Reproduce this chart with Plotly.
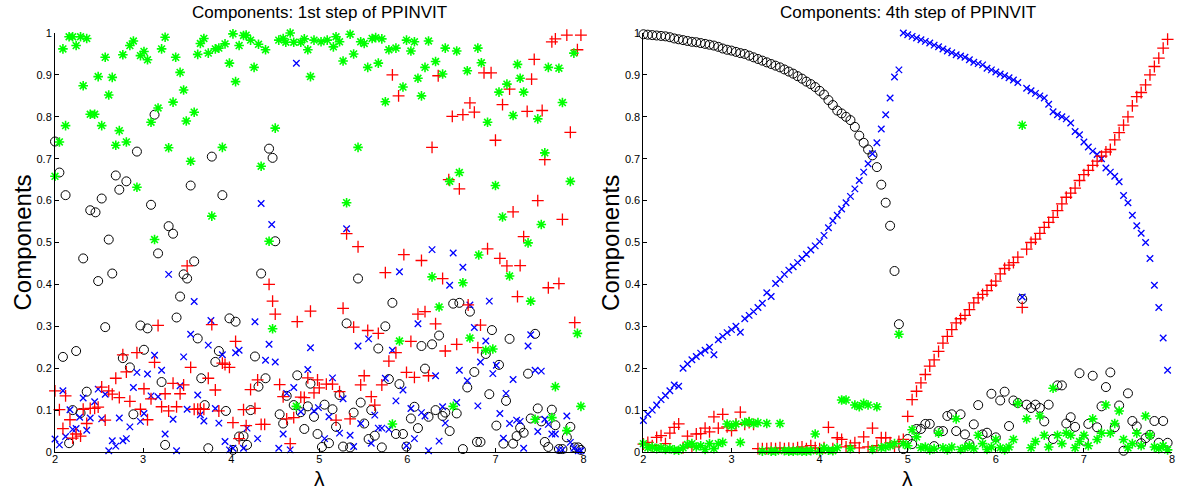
import plotly.graph_objects as go
from plotly.subplots import make_subplots

# ---------------- Left panel: 1st step (lambda, component) pairs ----------------
L_BLACK = [(2.00,.741),(2.05,.667),(2.09,.227),(2.12,.613),(2.16,.021),(2.20,.100),(2.24,.241),(2.29,.093),(2.32,.462),(2.36,.144),
 (2.40,.577),(2.46,.572),(2.49,.408),(2.53,.605),(2.57,.298),(2.61,.507),(2.65,.426),(2.69,.660),(2.73,.626),(2.77,.224),
 (2.81,.646),(2.85,.202),(2.89,.090),(2.93,.717),(2.97,.302),(3.01,.244),(3.05,.295),(3.09,.590),(3.13,.805),(3.17,.474),
 (3.21,.167),(3.25,.017),(3.29,.539),(3.34,.521),(3.38,.321),(3.42,.371),(3.46,.424),(3.50,.414),(3.54,.636),(3.58,.455),
 (3.62,.271),(3.66,.176),(3.70,.112),(3.74,.009),(3.78,.705),(3.82,.215),(3.86,.241),(3.90,.613),(3.94,.098),(3.98,.319),
 (4.02,.005),(4.05,.311),(4.09,.037),(4.14,.038),(4.18,.017),(4.22,.100),(4.27,.228),(4.31,.156),(4.34,.426),(4.39,.176),
 (4.43,.724),(4.47,.702),(4.50,.503),(4.55,.090),(4.59,.068),(4.63,.134),(4.71,.112),(4.75,.183),(4.79,.095),(4.83,.055),
 (4.87,.109),(4.90,.163),(4.94,.084),(4.98,.043),(5.03,.012),(5.06,.113),(5.11,.021),(5.15,.102),(5.19,.060),(5.23,.136),
 (5.27,.013),(5.31,.307),(5.35,.011),(5.39,.094),(5.44,.414),(5.47,.118),(5.51,.068),(5.56,.031),(5.59,.100),(5.63,.039),
 (5.67,.247),(5.71,.011),(5.75,.300),(5.79,.174),(5.83,.356),(5.87,.043),(5.91,.162),(5.95,.043),(5.99,.013),(6.04,.080),
 (6.08,.108),(6.12,.057),(6.16,.253),(6.20,.199),(6.24,.084),(6.28,.257),(6.32,.100),(6.36,.278),(6.40,.086),(6.43,.094),
 (6.48,.050),(6.52,.354),(6.56,.092),(6.59,.356),(6.63,.007),(6.68,.154),(6.71,.335),(6.76,.191),(6.79,.024),(6.83,.024),
 (6.89,.234),(6.93,.138),(6.96,.291),(7.01,.063),(7.04,.208),(7.09,.020),(7.12,.122),(7.16,.270),(7.20,.020),(7.24,.038),
 (7.28,.058),(7.32,.046),(7.37,.187),(7.40,.080),(7.45,.282),(7.48,.104),(7.52,.073),(7.56,.024),(7.60,.012),(7.64,.101),
 (7.68,.064),(7.72,.007),(7.76,.007),(7.81,.035),(7.85,.060),(7.90,.011),(7.94,.011),(7.97,.005)]

L_BLUE = [(2.00,.031),(2.05,.017),(2.09,.146),(2.12,.037),(2.17,.101),(2.20,.054),(2.24,.056),(2.28,.083),(2.32,.129),(2.36,.052),
 (2.40,.081),(2.45,.120),(2.49,.150),(2.53,.079),(2.57,.138),(2.61,.003),(2.65,.027),(2.69,.014),(2.73,.081),(2.77,.027),
 (2.81,.032),(2.85,.060),(2.89,.154),(2.93,.190),(2.97,.073),(3.01,.092),(3.05,.186),(3.09,.134),(3.13,.231),(3.17,.132),
 (3.21,.195),(3.25,.043),(3.29,.424),(3.34,.078),(3.38,.003),(3.42,.158),(3.46,.227),(3.50,.102),(3.54,.281),(3.58,.359),
 (3.62,.136),(3.65,.089),(3.69,.074),(3.74,.255),(3.77,.314),(3.82,.104),(3.86,.069),(3.90,.232),(3.93,.025),(3.98,.005),
 (4.02,.009),(4.05,.237),(4.09,.243),(4.14,.009),(4.18,.057),(4.27,.311),(4.30,.032),(4.34,.593),(4.39,.219),(4.43,.257),
 (4.46,.543),(4.50,.215),(4.54,.009),(4.59,.043),(4.63,.140),(4.67,.005),(4.71,.154),(4.74,.928),(4.79,.096),(4.87,.197),
 (4.90,.249),(4.94,.098),(4.99,.106),(5.06,.032),(5.11,.084),(5.15,.177),(5.23,.045),(5.27,.127),(5.31,.533),(5.35,.040),
 (5.39,.013),(5.44,.253),(5.47,.068),(5.56,.270),(5.59,.021),(5.63,.088),(5.67,.057),(5.71,.057),(5.75,.176),(5.79,.054),
 (5.83,.243),(5.87,.122),(5.91,.430),(5.95,.148),(5.99,.015),(6.04,.104),(6.08,.032),(6.12,.306),(6.16,.094),(6.20,.086),
 (6.24,.003),(6.28,.483),(6.32,.182),(6.36,.026),(6.40,.108),(6.43,.069),(6.48,.398),(6.52,.475),(6.56,.118),(6.59,.195),
 (6.63,.441),(6.68,.170),(6.71,.351),(6.76,.297),(6.80,.110),(6.83,.215),(6.89,.265),(6.93,.360),(6.97,.187),(7.01,.207),
 (7.05,.092),(7.09,.033),(7.12,.140),(7.16,.068),(7.20,.173),(7.24,.076),(7.28,.073),(7.32,.009),(7.37,.253),(7.40,.280),
 (7.45,.195),(7.48,.049),(7.52,.193),(7.56,.078),(7.60,.066),(7.64,.043),(7.68,.043),(7.72,.005),(7.76,.005),(7.81,.086),
 (7.85,.023),(7.89,.009),(7.94,.003),(7.97,.003)]

L_RED = [(2.00,.146),(2.05,.101),(2.09,.056),(2.12,.134),(2.17,.077),(2.20,.033),(2.24,.043),(2.29,.038),(2.32,.102),(2.36,.068),
 (2.40,.104),(2.45,.104),(2.49,.107),(2.53,.155),(2.57,.076),(2.61,.146),(2.65,.138),(2.69,.176),(2.73,.130),(2.77,.232),
 (2.81,.191),(2.85,.121),(2.93,.237),(2.97,.102),(3.01,.151),(3.05,.077),(3.09,.127),(3.13,.214),(3.17,.302),(3.21,.108),
 (3.25,.139),(3.29,.098),(3.34,.164),(3.38,.108),(3.42,.139),(3.46,.160),(3.50,.444),(3.54,.202),(3.58,.102),(3.62,.102),
 (3.65,.102),(3.69,.102),(3.74,.176),(3.78,.304),(3.82,.148),(3.86,.098),(3.90,.212),(3.93,.209),(3.98,.202),(4.02,.070),
 (4.05,.264),(4.09,.032),(4.14,.101),(4.17,.063),(4.22,.149),(4.27,.104),(4.30,.172),(4.34,.066),(4.38,.066),(4.43,.400),
 (4.47,.360),(4.50,.329),(4.55,.161),(4.59,.132),(4.63,.079),(4.67,.020),(4.71,.082),(4.75,.311),(4.79,.131),(4.83,.130),
 (4.87,.177),(4.90,.336),(4.94,.141),(4.98,.172),(5.00,.153),(5.08,.162),(5.15,.162),(5.19,.076),(5.23,.144),(5.27,.343),
 (5.31,.521),(5.35,.079),(5.39,.298),(5.44,.490),(5.47,.160),(5.51,.182),(5.55,.290),(5.59,.132),(5.63,.112),(5.67,.283),
 (5.71,.160),(5.75,.428),(5.79,.217),(5.83,.900),(5.87,.237),(5.90,.850),(5.96,.471),(5.99,.190),(6.04,.264),(6.08,.178),
 (6.12,.329),(6.16,.457),(6.20,.335),(6.24,.182),(6.28,.727),(6.32,.306),(6.35,.898),(6.40,.414),(6.43,.241),(6.47,.650),
 (6.51,.801),(6.56,.257),(6.59,.628),(6.63,.805),(6.69,.351),(6.71,.833),(6.76,.811),(6.80,.249),(6.83,.303),(6.87,.905),
 (6.91,.485),(6.95,.905),(7.00,.744),(7.05,.462),(7.08,.829),(7.13,.444),(7.16,.866),(7.20,.573),(7.25,.371),(7.28,.445),
 (7.32,.514),(7.36,.813),(7.41,.890),(7.44,.937),(7.48,.600),(7.53,.815),(7.56,.698),(7.60,.392),(7.64,.979),(7.68,.986),
 (7.72,.402),(7.76,.555),(7.81,.995),(7.85,.763),(7.90,.309),(7.93,.960),(7.97,.995)]

L_GREEN = [(2.00,.658),(2.05,.740),(2.09,.962),(2.12,.779),(2.16,.991),(2.20,.991),(2.24,.970),(2.29,.991),(2.32,.874),(2.36,.987),
 (2.40,.806),(2.45,.806),(2.49,.896),(2.53,.779),(2.57,.942),(2.61,.852),(2.65,.894),(2.69,.732),(2.73,.767),(2.77,.948),
 (2.81,.740),(2.85,.970),(2.89,.981),(2.93,.632),(2.97,.946),(3.01,.956),(3.05,.936),(3.09,.787),(3.13,.507),(3.17,.821),
 (3.21,.962),(3.25,.990),(3.29,.726),(3.34,.835),(3.37,.942),(3.42,.906),(3.46,.864),(3.49,.790),(3.54,.694),(3.58,.811),
 (3.62,.949),(3.65,.975),(3.69,.987),(3.74,.952),(3.78,.563),(3.82,.962),(3.86,.964),(3.90,.727),(3.93,.974),(3.98,.928),
 (4.02,.998),(4.05,.884),(4.09,.970),(4.14,.994),(4.17,.995),(4.22,.983),(4.26,.918),(4.31,.973),(4.34,.682),(4.39,.960),
 (4.43,.503),(4.47,.294),(4.50,.773),(4.54,.983),(4.59,.987),(4.62,.978),(4.67,1.0),(4.71,.978),(4.74,.109),(4.79,.978),
 (4.83,.986),(4.87,.960),(4.90,.896),(4.94,.983),(5.02,.979),(5.09,.983),(5.16,.967),(5.19,.991),(5.23,.979),(5.27,.933),
 (5.31,.595),(5.35,.997),(5.39,.950),(5.44,.727),(5.47,.979),(5.51,.975),(5.55,.918),(5.60,.987),(5.64,.989),(5.67,.928),
 (5.71,.986),(5.75,.836),(5.79,.960),(5.83,.067),(5.87,.964),(5.91,.265),(5.95,.871),(5.99,.983),(6.04,.957),(6.08,.979),
 (6.12,.892),(6.16,.850),(6.20,.918),(6.24,.981),(6.28,.418),(6.32,.932),(6.36,.346),(6.40,.902),(6.43,.964),(6.48,.646),
 (6.52,.109),(6.56,.957),(6.59,.667),(6.63,.404),(6.68,.910),(6.71,.272),(6.80,.964),(6.81,.470),(6.84,.929),(6.89,.243),
 (6.91,.787),(6.97,.246),(7.00,.636),(7.04,.859),(7.08,.561),(7.13,.878),(7.16,.420),(7.20,.803),(7.25,.925),(7.28,.892),
 (7.32,.859),(7.37,.499),(7.40,.360),(7.45,.078),(7.48,.795),(7.52,.543),(7.56,.714),(7.60,.918),(7.64,.082),(7.68,.156),
 (7.72,.916),(7.76,.834),(7.81,.051),(7.85,.646),(7.89,.952),(7.93,.283),(7.97,.109)]

# ---------------- Right panel: 4th step ----------------
R1_LAM = [2.00,2.05,2.10,2.15,2.20,2.25,2.30,2.35,2.40,2.45,
          2.50,2.55,2.60,2.65,2.70,2.75,2.80,2.85,2.90,2.95,
          3.00,3.05,3.10,3.15,3.20,3.25,3.30,3.35,3.40,3.45,
          3.50,3.55,3.60,3.65,3.70,3.75,3.80,3.85,3.90,3.95,
          4.00,4.05,4.10,4.15,4.20,4.25,4.30,4.35,4.40,4.45,
          4.50,4.55,4.60,4.65,4.70,4.75,4.80,4.85,4.90]
R1_BLACK = [.997,.996,.995,.994,.993,.992,.990,.987,.985,.983,
            .981,.979,.978,.976,.974,.972,.970,.967,.963,.960,
            .958,.955,.952,.950,.946,.942,.938,.934,.930,.926,
            .922,.918,.913,.908,.903,.897,.891,.884,.878,.871,
            .862,.853,.840,.828,.815,.808,.800,.792,.776,.755,
            .738,.722,.708,.680,.638,.595,.540,.432,.305]
R1_BLUE = [.075,.090,.100,.112,.125,.135,.146,.160,.157,.200,
           .210,.220,.228,.236,.243,.250,.232,.268,.276,.285,
           .292,.300,.286,.318,.326,.335,.345,.355,.380,.371,
           .402,.412,.424,.434,.442,.452,.462,.472,.482,.492,
           .502,.517,.535,.552,.565,.580,.595,.610,.628,.648,
           .668,.688,.712,.738,.771,.805,.845,.895,.912]
R1_RED = [.019,.023,.015,.035,.039,.020,.045,.059,.067,.010,
          .038,.012,.043,.044,.057,.048,.084,.057,.090,.060,
          .051,.067,.095,.066,.070,.066,.008,.008,.008,.009,
          .008,.010,.008,.009,.008,.010,.012,.008,.015,.010,
          .008,.010,.059,.008,.034,.030,.012,.015,.022,.010,
          .036,.012,.057,.015,.034,.034,.022,.012,.025]
R1_GREEN = [.020,.010,.012,.008,.010,.006,.008,.005,.004,.010,
            .018,.020,.012,.015,.006,.020,.008,.020,.023,.067,
            .062,.067,.023,.070,.072,.068,.070,.002,.068,.002,
            .002,.068,.003,.002,.002,.003,.002,.002,.003,.043,
            .002,.010,.004,.003,.010,.124,.124,.008,.112,.108,
            .116,.112,.006,.108,.010,.012,.015,.020,.281]

R2_LAM = [4.95,5.00,5.05,5.10,5.15,5.20,5.25,5.30,5.35,5.40,
          5.45,5.50,5.55,5.60,5.65,5.70,5.75,5.80,5.85,5.90,
          5.95,6.00,6.05,6.10,6.15,6.20,6.25,6.30,6.35,6.40,
          6.45,6.50,6.55,6.60,6.65,6.70,6.75,6.80,6.85,6.90,
          6.95,7.00,7.05,7.10,7.15,7.20,7.25,7.30,7.35,7.40,
          7.45,7.50,7.55,7.60,7.65,7.70,7.75,7.80,7.85,7.90,
          7.95]
R2_BLACK = [.007,.031,.019,.055,.055,.067,.067,.014,.050,.050,
            .086,.090,.050,.090,.042,.019,.066,.112,.042,.046,
            .139,.035,.123,.144,.062,.123,.117,.365,.113,.105,
            .113,.105,.073,.113,.031,.159,.159,.068,.083,.060,
            .188,.027,.067,.182,.059,.109,.155,.190,.059,.111,
            .003,.140,.074,.061,.021,.033,.041,.074,.022,.074,
            .022]
R2_BLUE = [1.000,.996,.992,.988,.984,.980,.976,.971,.967,.962,
           .957,.953,.948,.945,.942,.936,.930,.927,.924,.916,
           .912,.907,.902,.898,.893,.888,.882,.370,.868,.862,
           .856,.850,.845,.830,.812,.805,.800,.795,.785,.765,
           .757,.740,.728,.718,.710,.700,.678,.668,.658,.645,
           .612,.595,.565,.540,.522,.500,.462,.398,.345,.272,
           .195]
R2_RED = [.030,.085,.125,.145,.165,.185,.205,.220,.240,.260,
          .276,.292,.308,.318,.326,.340,.356,.368,.376,.385,
          .398,.408,.425,.438,.446,.452,.465,.345,.484,.500,
          .508,.522,.536,.548,.560,.576,.592,.608,.618,.630,
          .648,.662,.672,.684,.694,.706,.716,.722,.745,.762,
          .780,.800,.826,.848,.858,.876,.900,.920,.940,.964,
          .985]
R2_GREEN = [.020,.015,.053,.036,.010,.012,.005,.008,.045,.010,
            .005,.012,.079,.006,.010,.015,.008,.040,.020,.006,
            .012,.030,.010,.005,.012,.030,.116,.780,.079,.010,
            .025,.086,.040,.012,.152,.040,.020,.045,.040,.010,
            .025,.040,.015,.079,.030,.045,.112,.045,.068,.098,
            .030,.010,.020,.045,.015,.086,.040,.012,.008,.015,
            .005]

TITLES = ["Components: 1st step of PPINVIT", "Components: 4th step of PPINVIT"]
Y_LABEL = "Components"
X_LABEL = "λ"
Y_TICKS = [0, 0.1, 0.2, 0.3, 0.4, 0.5, 0.6, 0.7, 0.8, 0.9, 1]
Y_TICK_TEXT = ["0", "0.1", "0.2", "0.3", "0.4", "0.5", "0.6", "0.7", "0.8", "0.9", "1"]
X_TICKS = [2, 3, 4, 5, 6, 7, 8]

STYLES = {
    "black": dict(symbol="circle-open", size=9, color="#000000", width=1),
    "blue": dict(symbol="x-thin-open", size=6.5, color="#0000ff", width=1.3),
    "red": dict(symbol="cross-thin-open", size=8.5, color="#ff0000", width=1.3),
    "green": dict(symbol="asterisk-open", size=8, color="#00ff00", width=1.6),
}

FONT = "Arial, Liberation Sans, sans-serif"

fig = make_subplots(rows=1, cols=2)


def add(xs, ys, key, col):
    s = STYLES[key]
    fig.add_trace(go.Scatter(
        x=xs, y=ys, mode="markers", showlegend=False, cliponaxis=False,
        marker=dict(symbol=s["symbol"], size=s["size"], color=s["color"],
                    line=dict(color=s["color"], width=s["width"]))),
        row=1, col=col)


for key, pts in [("black", L_BLACK), ("blue", L_BLUE), ("red", L_RED), ("green", L_GREEN)]:
    add([p[0] for p in pts], [p[1] for p in pts], key, 1)

add(R1_LAM + R2_LAM, R1_BLACK + R2_BLACK, "black", 2)
add(R1_LAM + R2_LAM, R1_BLUE + R2_BLUE, "blue", 2)
add(R1_LAM + R2_LAM, R1_RED + R2_RED, "red", 2)
add(R1_LAM + R2_LAM, R1_GREEN + R2_GREEN, "green", 2)

axis_font = dict(family=FONT, size=11, color="#000000")
for c in (1, 2):
    fig.update_xaxes(range=[2, 8], tickvals=X_TICKS, showline=True, linecolor="#000000",
                     linewidth=1, ticks="inside", ticklen=4, tickcolor="#000000",
                     ticklabelstandoff=-3,
                     showgrid=False, zeroline=False, tickfont=axis_font, row=1, col=c)
    fig.update_yaxes(range=[0, 1], tickvals=Y_TICKS, ticktext=Y_TICK_TEXT, showline=True,
                     linecolor="#000000", linewidth=1, ticks="inside", ticklen=4,
                     tickcolor="#000000", showgrid=False, zeroline=False,
                     tickfont=axis_font, row=1, col=c)

fig.update_xaxes(domain=[0.0, 0.4732], row=1, col=1)
fig.update_xaxes(domain=[0.5268, 1.0], row=1, col=2)

annots = []
for i, (xr, yr) in enumerate([("x domain", "y domain"), ("x2 domain", "y2 domain")]):
    annots.append(dict(text=TITLES[i], xref=xr, yref=yr, x=0.5, y=1, yanchor="bottom",
                       yshift=9, showarrow=False,
                       font=dict(family=FONT, size=17, color="#000000")))
    annots.append(dict(text=Y_LABEL, xref=xr, yref=yr, x=0, y=0.5, xanchor="center",
                       yanchor="middle", xshift=-33, textangle=-90, showarrow=False,
                       font=dict(family=FONT, size=24, color="#000000")))
    annots.append(dict(text=X_LABEL, xref=xr, yref=yr, x=0.5, y=0, xanchor="center",
                       yanchor="middle", yshift=-26, showarrow=False,
                       font=dict(family=FONT, size=21, color="#000000")))

fig.update_layout(width=1179, height=490, margin=dict(l=55, r=4, t=33, b=38),
                  plot_bgcolor="#ffffff", paper_bgcolor="#ffffff", annotations=annots)

fig.write_html("out.html")
